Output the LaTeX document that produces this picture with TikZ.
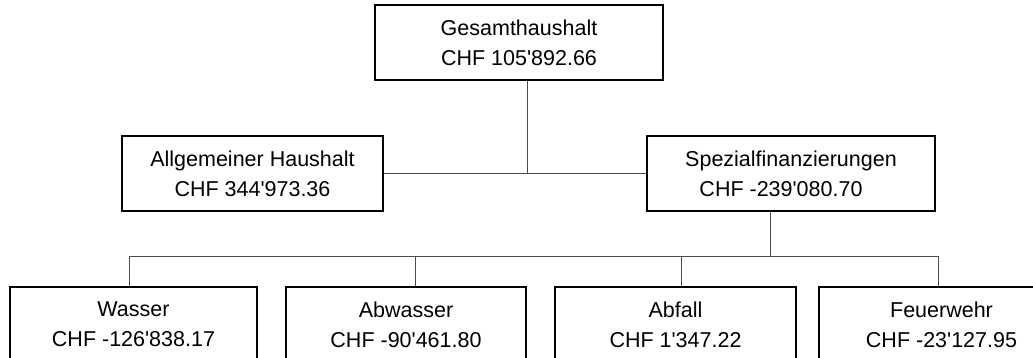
\documentclass[tikz,border=0pt]{standalone}
\usepackage{fontspec}
\setmainfont{Liberation Sans}
\usetikzlibrary{positioning}
\newcommand{\apo}{\textquotesingle}
\tikzset{
  konto/.style={draw, line width=2pt, rectangle, align=center, minimum height=75pt,
    inner sep=0pt, font=\fontsize{21.5}{30}\selectfont},
  ast/.style={draw=black!70, line width=1pt}
}
\begin{document}
\begin{tikzpicture}[x=1pt, y=-1pt]
  \useasboundingbox (0,0) rectangle (1033,358);
  \clip (0,0) rectangle (1033,358);
  % Ebene 0
  \node[konto, minimum width=288pt] (ges) at (519,42.5) {Gesamthaushalt\\CHF 105\apo{}892.66};
  % Ebene 1
  \node[konto, minimum width=261pt] (allg) at (252.5,174) {Allgemeiner Haushalt\\CHF 344\apo{}973.36};
  \node[konto, minimum width=288pt] (spez) at (791,174) {Spezialfinanzierungen\\CHF -239\apo{}080.70\hspace*{20pt}};
  % Ebene 2
  \node[konto, minimum width=247pt] (wasser) at (133.5,324.5) {Wasser\\CHF -126\apo{}838.17};
  \node[konto, minimum width=240pt] (abwasser) at (406,324.5) {Abwasser\\CHF -90\apo{}461.80};
  \node[konto, minimum width=241pt] (abfall) at (675.5,324.5) {Abfall\\CHF 1\apo{}347.22};
  \node[konto, minimum width=245pt] (feuer) at (941.5,324.5) {Feuerwehr\\CHF -23\apo{}127.95};
  % Verbindungen
  \coordinate (k1) at (527,174);
  \coordinate (k2) at (770,256);
  \draw[ast] (ges.south -| k1) -- (k1);
  \draw[ast] (allg.east) -- (spez.west);
  \draw[ast] (spez.south -| k2) -- (k2);
  \coordinate (w) at (129,256);
  \coordinate (a) at (415,256);
  \coordinate (f) at (681,256);
  \coordinate (r) at (938,256);
  \draw[ast] (w) -- (r);
  \draw[ast] (w) -- (w |- wasser.north);
  \draw[ast] (a) -- (a |- abwasser.north);
  \draw[ast] (f) -- (f |- abfall.north);
  \draw[ast] (r) -- (r |- feuer.north);
\end{tikzpicture}
\end{document}
